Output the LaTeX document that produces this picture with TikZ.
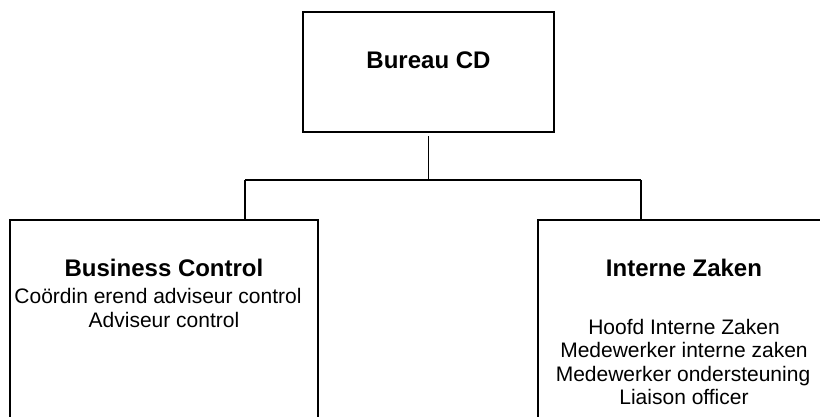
\documentclass[tikz,border=0pt]{standalone}
\usepackage{fontspec}
\setmainfont{Liberation Sans}
\begin{document}
\begin{tikzpicture}[x=1pt,y=-1pt,
  unit/.style={draw, line width=1.4pt, rectangle, inner sep=0pt, outer sep=0pt, anchor=north west},
  conn/.style={line width=1.4pt},
  head/.style={font=\fontsize{24}{28}\selectfont\bfseries, anchor=base, inner sep=0pt},
  staff/.style={font=\fontsize{21}{24}\selectfont, anchor=base, inner sep=0pt},
]
\useasboundingbox (0,0) rectangle (820,416);
\clip (0,0) rectangle (820,416);

% unit boxes
\node[unit, minimum width=251pt, minimum height=120pt] (cd) at (303,12) {};
\node[unit, minimum width=308pt, minimum height=220pt] (bc) at (10,220) {};
\node[unit, minimum width=292pt, minimum height=220pt] (iz) at (538,220) {};

% titles and staff lines
\node[head] (cdt) at (428.5,68) {Bureau CD};

\node[head]  (bct) at (164,276) {Business Control};
\node[staff] (bc1) at (158,303) {Coördin erend adviseur control};
\node[staff] (bc2) at (164,327) {Adviseur control};

\node[head]  (izt) at (684,276) {Interne Zaken};
\node[staff] (iz1) at (684,334) {Hoofd Interne Zaken};
\node[staff] (iz2) at (684,357.5) {Medewerker interne zaken};
\node[staff] (iz3) at (683,381) {Medewerker ondersteuning};
\node[staff] (iz4) at (684,404.5) {Liaison officer};

% connectors
\coordinate (bl) at (245,180);
\coordinate (br) at (641,180);
\draw[conn] ([yshift=-4pt]cd.south) -- (cd.south |- bl);
\draw[conn] (bl) -- (br);
\draw[conn] (bl) -- (bl |- bc.north);
\draw[conn] (br) -- (br |- iz.north);
\end{tikzpicture}
\end{document}
